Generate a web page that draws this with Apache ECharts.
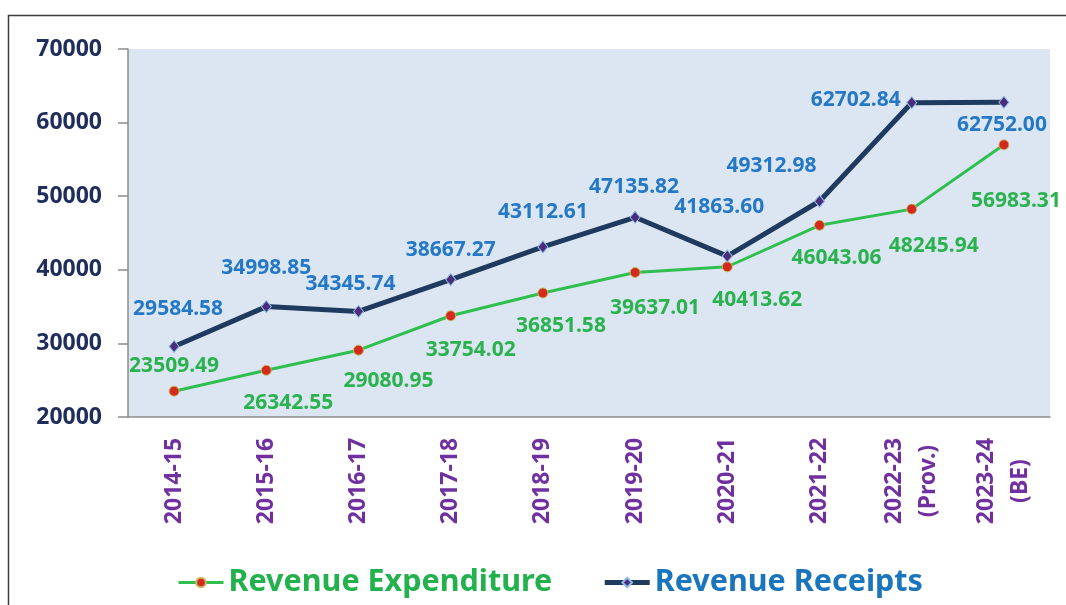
<!DOCTYPE html>
<html>
<head>
<meta charset="utf-8">
<script src="https://cdn.jsdelivr.net/npm/echarts@6/dist/echarts.min.js"></script>
<style>
  html, body { margin: 0; padding: 0; background: #fff; }
  #chart { width: 1066px; height: 605px; }
</style>
</head>
<body>
<div id="chart"></div>
<script>
const years = [
  '2014-15', '2015-16', '2016-17', '2017-18', '2018-19',
  '2019-20', '2020-21', '2021-22', '2022-23\n(Prov.)', '2023-24\n(BE)',
];
const revenueExpenditure = [
  23509.49, 26342.55, 29080.95, 33754.02, 36851.58,
  39637.01, 40413.62, 46043.06, 48245.94, 56983.31,
];
const revenueReceipts = [
  29584.58, 34998.85, 34345.74, 38667.27, 43112.61,
  47135.82, 41863.6, 49312.98, 62702.84, 62752.0,
];
const yTicks = [20000, 30000, 40000, 50000, 60000, 70000];

// hand-placed label offsets (px from the marker), like the original
const expLabelOffsets = [
  [0, -25], [22, 33], [30, 31], [20, 34], [18, 33],
  [20, 36], [30, 33], [17, 33], [22, 37], [12, 56],
];
const recLabelOffsets = [
  [4, -37], [0, -39], [-8, -27], [0, -30], [0, -35],
  [-1, -30], [-8, -49], [-48, -35], [-56, -3], [-2, 23],
];

const chart = echarts.init(document.getElementById('chart'), null, { renderer: 'canvas' });

function points(values, offsets) {
  return values.map((v, i) => ({ value: v, label: { offset: offsets[i] } }));
}

const labelFont = {
  fontFamily: 'Noto Sans',
  fontWeight: 'bold',
  fontSize: 21,
};

chart.setOption({
  animation: false,
  backgroundColor: '#fff',
  graphic: [
    {
      type: 'rect',
      shape: { x: 8.5, y: 15.5, width: 1200, height: 800 },
      style: { fill: 'none', stroke: '#3c3c3c', lineWidth: 1.5 },
      silent: true,
    },
  ],
  grid: {
    left: 128,
    right: 16,
    top: 49,
    bottom: 188,
    show: true,
    backgroundColor: '#dce6f2',
    borderWidth: 0,
  },
  legend: {
    left: 172,
    top: 562,
    itemWidth: 45,
    itemHeight: 12,
    itemGap: 50,
    textStyle: { fontFamily: 'Noto Sans', fontWeight: 'bold', fontSize: 30.5 },
    data: [
      {
        name: 'Revenue Expenditure',
        textStyle: { color: '#22b14c' },
        lineStyle: { width: 3, color: '#2ebf4f' },
      },
      {
        name: 'Revenue Receipts',
        textStyle: { color: '#1b75bc' },
        lineStyle: { width: 5, color: '#1f3a5f' },
      },
    ],
  },
  xAxis: {
    type: 'category',
    data: years,
    boundaryGap: true,
    axisLine: { lineStyle: { color: '#8c8c8c', width: 1.5 } },
    axisTick: { length: 8, lineStyle: { color: '#8c8c8c', width: 1.5 } },
    axisLabel: {
      rotate: 90,
      align: 'center',
      verticalAlign: 'middle',
      margin: 64,
      interval: 0,
      lineHeight: 34,
      color: '#7030a0',
      fontFamily: 'Noto Sans',
      fontWeight: 'bold',
      fontSize: 23,
    },
  },
  yAxis: {
    type: 'value',
    min: yTicks[0],
    max: yTicks[yTicks.length - 1],
    interval: 10000,
    splitLine: { show: false },
    axisLine: { show: true, lineStyle: { color: '#8c8c8c', width: 1.5 } },
    axisTick: { show: true, length: 10, lineStyle: { color: '#8c8c8c', width: 1.5 } },
    axisLabel: {
      margin: 26,
      color: '#1f2d5c',
      fontFamily: 'Noto Sans',
      fontWeight: 'bold',
      fontSize: 23,
      formatter: (v) => String(v),
    },
  },
  series: [
    {
      name: 'Revenue Expenditure',
      type: 'line',
      data: points(revenueExpenditure, expLabelOffsets),
      symbol: 'circle',
      symbolSize: 10,
      lineStyle: { color: '#2ebf4f', width: 3 },
      itemStyle: { color: '#d42a1e', borderColor: '#c9b865', borderWidth: 1 },
      label: {
        show: true,
        position: 'inside',
        align: 'center',
        verticalAlign: 'middle',
        color: '#2ab24f',
        ...labelFont,
        formatter: (p) => p.value.toFixed(2),
      },
    },
    {
      name: 'Revenue Receipts',
      type: 'line',
      data: points(revenueReceipts, recLabelOffsets),
      symbol: 'diamond',
      symbolSize: [10, 12],
      lineStyle: { color: '#1f3a5f', width: 5 },
      itemStyle: { color: '#4b2c7a', borderColor: '#8fbbe6', borderWidth: 1 },
      label: {
        show: true,
        position: 'inside',
        align: 'center',
        verticalAlign: 'middle',
        color: '#2478c6',
        ...labelFont,
        formatter: (p) => p.value.toFixed(2),
      },
    },
  ],
});
</script>
</body>
</html>
